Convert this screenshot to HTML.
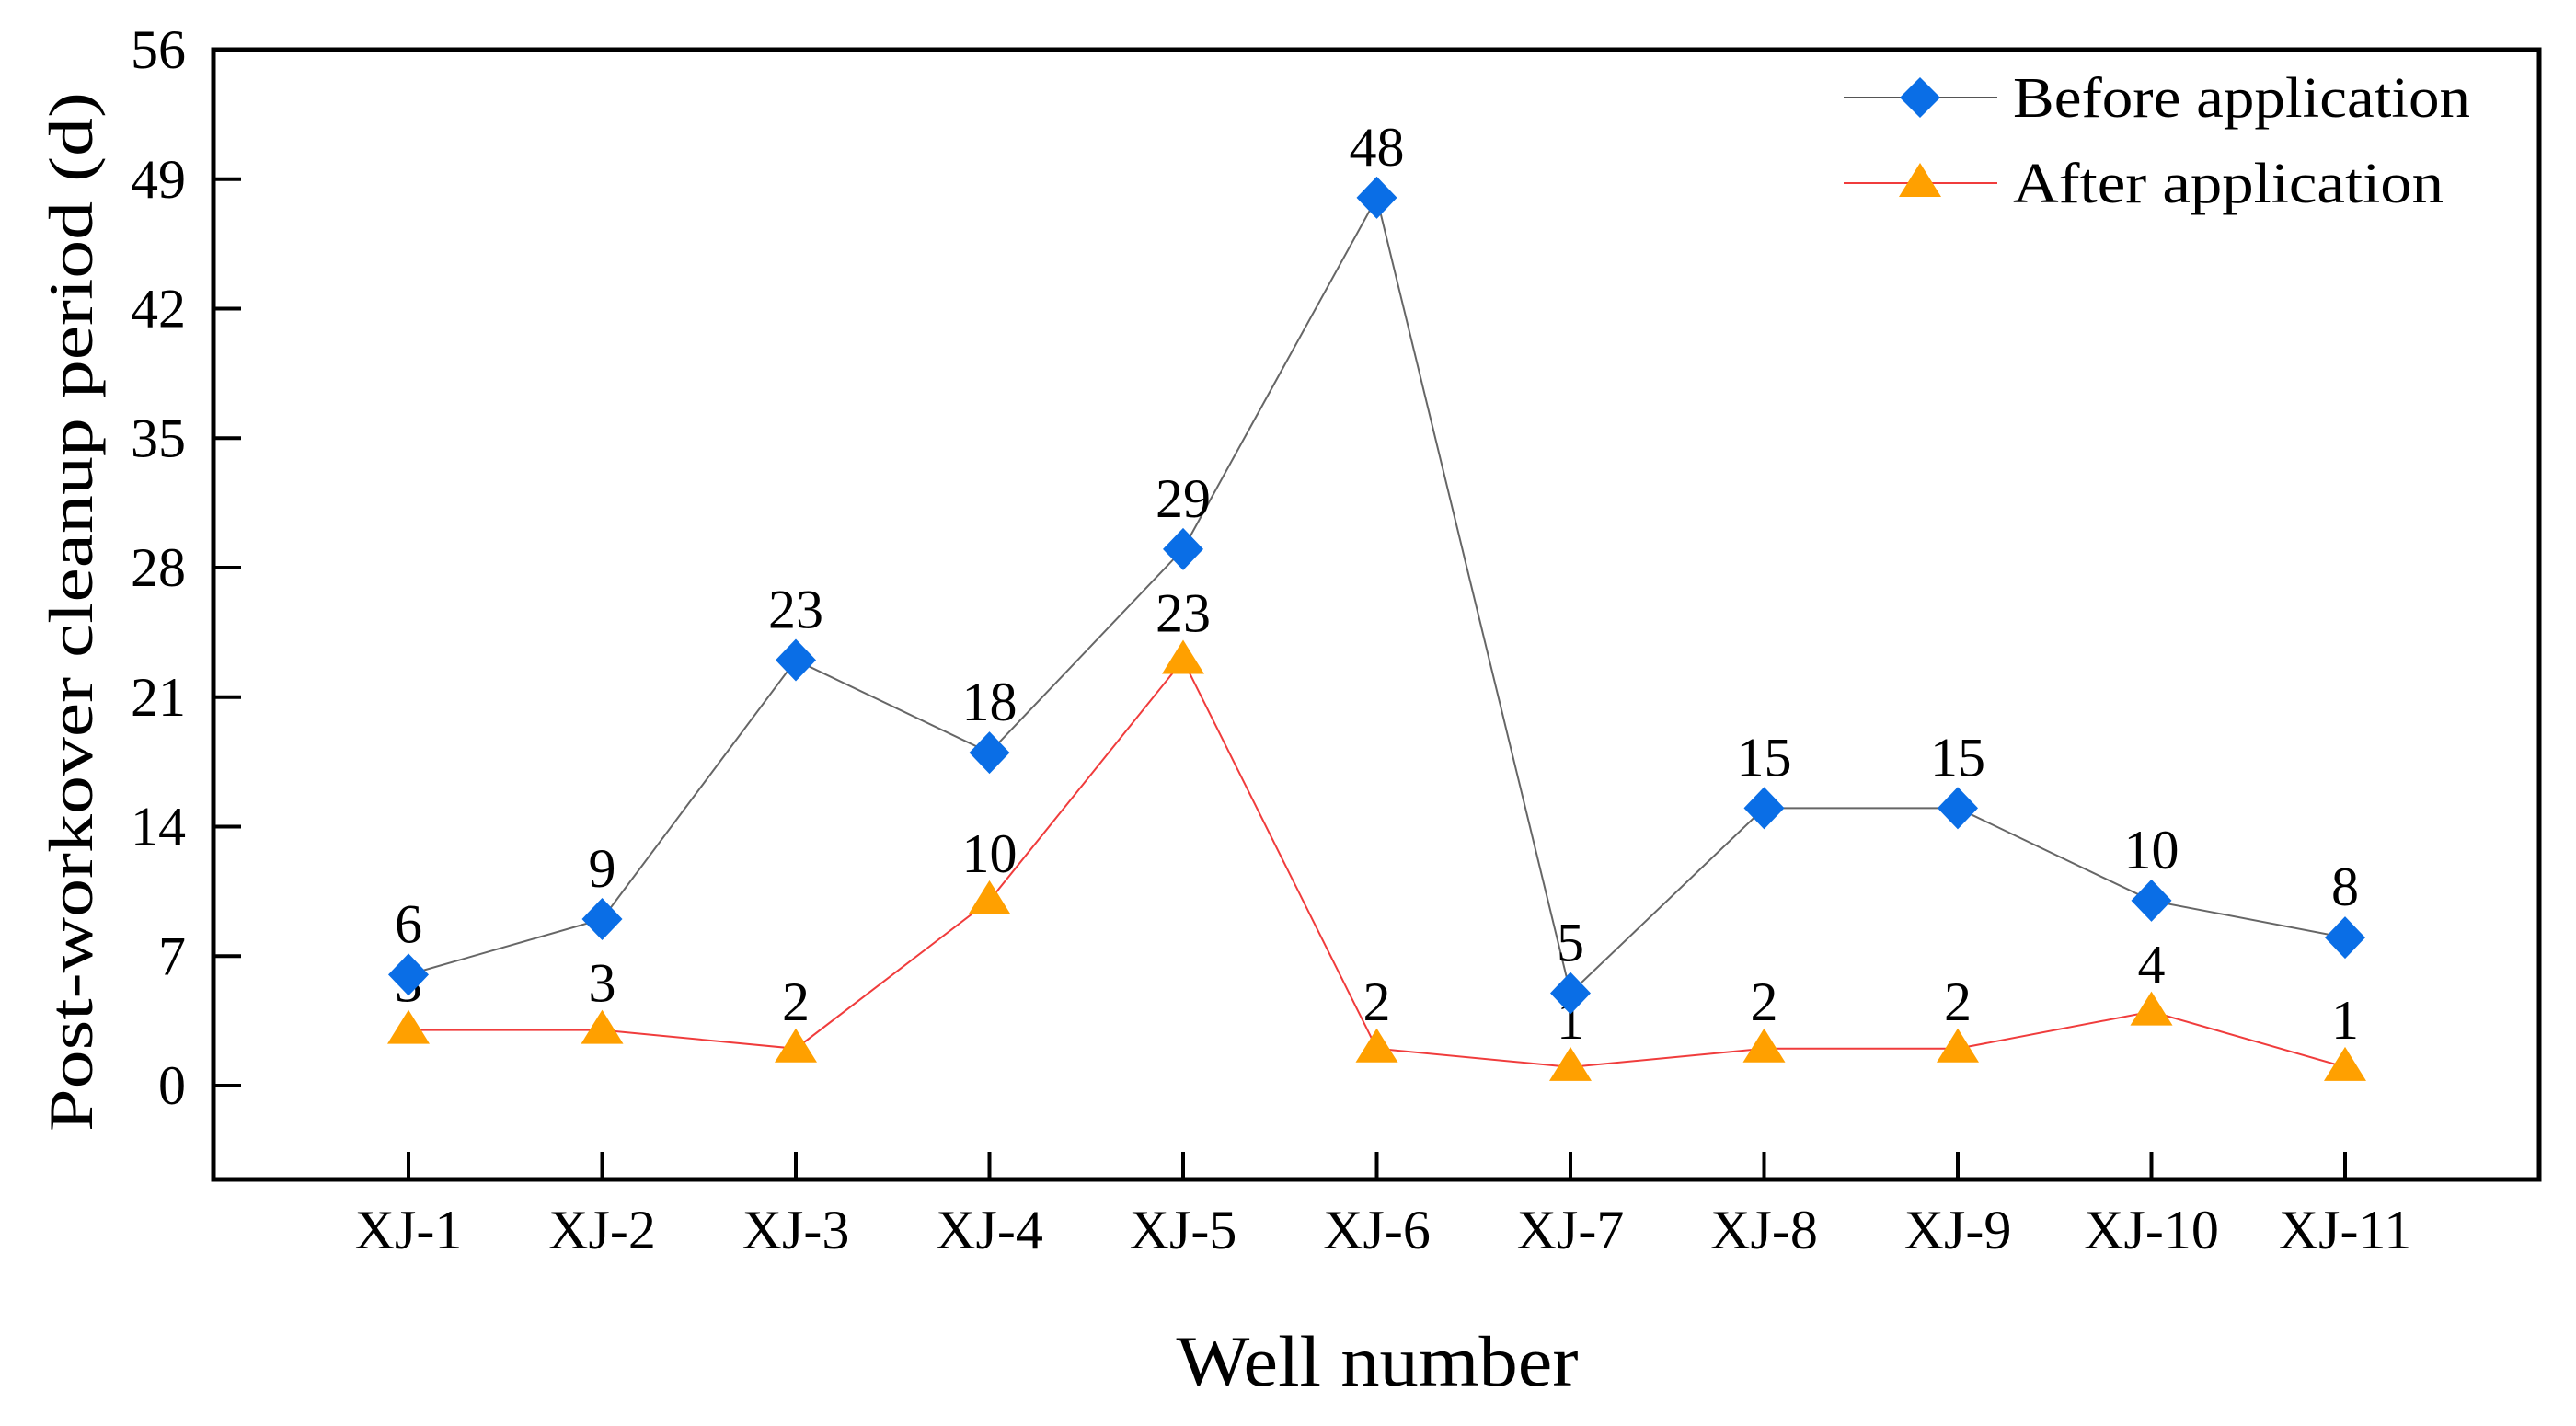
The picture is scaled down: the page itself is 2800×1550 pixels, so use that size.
<!DOCTYPE html>
<html><head><meta charset="utf-8"><style>
html,body{margin:0;padding:0;background:#fff;}
svg{display:block;font-family:"Liberation Serif",serif;}
</style></head><body>
<svg id="chart" width="2800" height="1550" viewBox="0 0 2800 1550">
  <rect x="232" y="54" width="2528" height="1228" fill="none" stroke="#000" stroke-width="5"/>
  <g id="yaxis"></g>
  <g id="xaxis"></g>
  <g id="series"></g>
  <text x="0" y="0" transform="translate(100,665) rotate(-90)" text-anchor="middle" font-size="68" textLength="1130" lengthAdjust="spacingAndGlyphs">Post-workover cleanup period (d)</text>
  <text x="1497" y="1506" text-anchor="middle" font-size="78" textLength="437" lengthAdjust="spacingAndGlyphs">Well number</text>
  <g>
    <g>
      <line x1="2004" y1="106" x2="2171" y2="106" stroke="#555" stroke-width="2"/>
      <polygon points="2087,84 2109,106 2087,128 2065,106" fill="#0a6ee6"/>
      <text x="2188" y="127" font-size="62" textLength="497" lengthAdjust="spacingAndGlyphs">Before application</text>
    </g>
    <g>
      <line x1="2004" y1="199" x2="2171" y2="199" stroke="#f03c3c" stroke-width="2"/>
      <polygon points="2087,177 2110,214 2064,214" fill="#ffa000"/>
      <text x="2188" y="220" font-size="62" textLength="468" lengthAdjust="spacingAndGlyphs">After application</text>
    </g>
  </g>
</svg>
<script>
const categories = ["XJ-1","XJ-2","XJ-3","XJ-4","XJ-5","XJ-6","XJ-7","XJ-8","XJ-9","XJ-10","XJ-11"];
const beforeValues = [6,9,23,18,29,48,5,15,15,10,8];
const afterValues = [3,3,2,10,23,2,1,2,2,4,1];
const yTicks = [0,7,14,21,28,35,42,49,56];

const NS = "http://www.w3.org/2000/svg";
const X0 = 444, XSTEP = 210.5;
const Y0 = 1180, YTOP = 54, YMAX = 56;
function xs(i){ return X0 + i*XSTEP; }
function ys(v){ return Y0 - (v/YMAX)*(Y0-YTOP); }
function mk(tag, attrs, parent){
  const el = document.createElementNS(NS, tag);
  for (const k in attrs) el.setAttribute(k, attrs[k]);
  parent.appendChild(el);
  return el;
}
const yaxis = document.getElementById('yaxis');
yTicks.forEach(t => {
  const y = ys(t);
  if (t !== 56) {
    const tk = mk('line', {x1:232, y1:y, x2:262, y2:y, stroke:'#000', 'stroke-width':4}, yaxis);
    
    
  }
  const lb = mk('text', {x:202, y:y+20, 'text-anchor':'end', 'font-size':60}, yaxis);
  lb.textContent = t;
  
  
});
const xaxis = document.getElementById('xaxis');
categories.forEach((c, i) => {
  const x = xs(i);
  const tk = mk('line', {x1:x, y1:1282, x2:x, y2:1252, stroke:'#000', 'stroke-width':4}, xaxis);
  
  
  const lb = mk('text', {x:x, y:1357, 'text-anchor':'middle', 'font-size':60}, xaxis);
  lb.textContent = c;
  
  
});
const series = document.getElementById('series');
function drawLine(vals, color, name){
  const pts = vals.map((v,i) => xs(i) + ',' + ys(v)).join(' ');
  const pl = mk('polyline', {points:pts, fill:'none', stroke:color, 'stroke-width':2}, series);
  
  
}
drawLine(afterValues, '#f03c3c', 'after-line');
drawLine(beforeValues, '#666', 'before-line');
afterValues.forEach((v,i) => {
  const x = xs(i), y = ys(v);
  const p = mk('polygon', {points:`${x},${y-22} ${x+23},${y+15} ${x-23},${y+15}`, fill:'#ffa000'}, series);
  
  
  const t = mk('text', {x:x, y:y-31, 'text-anchor':'middle', 'font-size':60}, series);
  t.textContent = v;
  
  
});
beforeValues.forEach((v,i) => {
  const x = xs(i), y = ys(v);
  const p = mk('polygon', {points:`${x},${y-23} ${x+22},${y} ${x},${y+23} ${x-22},${y}`, fill:'#0a6ee6'}, series);
  
  
  const t = mk('text', {x:x, y:y-35, 'text-anchor':'middle', 'font-size':60}, series);
  t.textContent = v;
  
  
});
</script>
</body></html>
